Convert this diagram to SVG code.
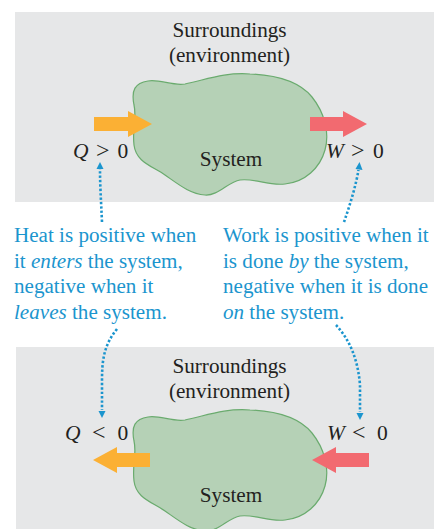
<svg xmlns="http://www.w3.org/2000/svg" width="434" height="529" viewBox="0 0 434 529">
<defs>
<style>
.panel{fill:#e6e7e8}
.blob{fill:#b5d1b6;stroke:#6aab6e;stroke-width:1.2}
.lbl{font-size:21.2px;fill:#231f20}
.math{font-size:21.5px;fill:#231f20}
.rel{font-size:24px}
.it{font-style:italic}
.blue{font-size:21.1px;fill:#1b95ce}
.heat{fill:#fbb034}
.work{fill:#f26a70}
.dot{fill:none;stroke:#1b95ce;stroke-width:2.6;stroke-dasharray:2.4 2}
.tip{fill:#1b95ce}
</style>
<path id="blobShape" d="M148,81 C160,79 172,86 185,84 C205,80 225,72 250,74 C275,75 298,80 312,97 C324,112 330,132 325,150 C320,168 305,182 285,184 C268,186 255,178 240,180 C228,182 218,196 205,195 C190,194 178,184 165,175 C152,166 136,162 134,145 C132,128 137,118 134,105 C131,90 135,83 148,81 Z"/>
</defs>

<g id="top-panel" font-family="Liberation Serif, serif">
<rect class="panel" x="15" y="12" width="419" height="190"/>
<text class="lbl" x="229.5" y="37" text-anchor="middle">Surroundings</text>
<text class="lbl" x="229.5" y="62" text-anchor="middle">(environment)</text>
</g>
<g id="top-system" font-family="Liberation Serif, serif">
<use href="#blobShape" class="blob"/>
<text class="lbl" x="231" y="166" text-anchor="middle">System</text>
</g>
<g id="top-heat" font-family="Liberation Serif, serif">
<polygon class="heat" points="94,117 128,117 128,111 152,124 128,137 128,131 94,131"/>
<text class="math" y="158"><tspan class="it" x="73">Q</tspan><tspan class="rel" x="96">&gt;</tspan><tspan x="117.5">0</tspan></text>
</g>
<g id="top-work" font-family="Liberation Serif, serif">
<polygon class="work" points="310,117 343,117 343,111 367,124 343,137 343,131 310,131"/>
<text class="math" y="158"><tspan class="it" x="326">W</tspan><tspan class="rel" x="351">&gt;</tspan><tspan x="373">0</tspan></text>
</g>

<g id="heat-note" font-family="Liberation Serif, serif">
<text class="blue" x="14" y="242">Heat is positive when</text>
<text class="blue" x="14" y="267.5">it <tspan class="it">enters</tspan> the system,</text>
<text class="blue" x="14" y="293">negative when it</text>
<text class="blue" x="14" y="318.5"><tspan class="it">leaves</tspan> the system.</text>
</g>
<g id="work-note" font-family="Liberation Serif, serif">
<text class="blue" x="223" y="242">Work is positive when it</text>
<text class="blue" x="223" y="267.5">is done <tspan class="it">by</tspan> the system,</text>
<text class="blue" x="223" y="293">negative when it is done</text>
<text class="blue" x="223" y="318.5"><tspan class="it">on</tspan> the system.</text>
</g>

<g id="bottom-panel" font-family="Liberation Serif, serif">
<rect class="panel" x="16" y="347" width="418" height="182"/>
<text class="lbl" x="229.5" y="373" text-anchor="middle">Surroundings</text>
<text class="lbl" x="229.5" y="398" text-anchor="middle">(environment)</text>
</g>
<g id="bottom-system" font-family="Liberation Serif, serif">
<use href="#blobShape" class="blob" transform="translate(0,336)"/>
<text class="lbl" x="231" y="502" text-anchor="middle">System</text>
</g>
<g id="bottom-heat" font-family="Liberation Serif, serif">
<polygon class="heat" points="150,453 117,453 117,447 93,460 117,473 117,467 150,467"/>
<text class="math" y="440"><tspan class="it" x="65">Q</tspan><tspan class="rel" x="92">&lt;</tspan><tspan x="117.5">0</tspan></text>
</g>
<g id="bottom-work" font-family="Liberation Serif, serif">
<polygon class="work" points="369,453 336,453 336,447 312,460 336,473 336,467 369,467"/>
<text class="math" y="440"><tspan class="it" x="327">W</tspan><tspan class="rel" x="352">&lt;</tspan><tspan x="377">0</tspan></text>
</g>

<g id="connectors">
<path class="dot" d="M102,222 C101,200 100,185 100,169"/>
<polygon class="tip" points="100,162 96.5,169 103.5,169"/>
<path class="dot" d="M344,222 C350,205 356,185 358.5,170"/>
<polygon class="tip" points="359.5,162 355.5,169 362.5,170"/>
<path class="dot" d="M117,329 C104,345 102,360 102,380 L102,410"/>
<polygon class="tip" points="102,418 98.5,411 105.5,411"/>
<path class="dot" d="M336,325 C350,340 358,360 360,385 L360,412"/>
<polygon class="tip" points="360,420 356.5,413 363.5,413"/>
</g>
</svg>
